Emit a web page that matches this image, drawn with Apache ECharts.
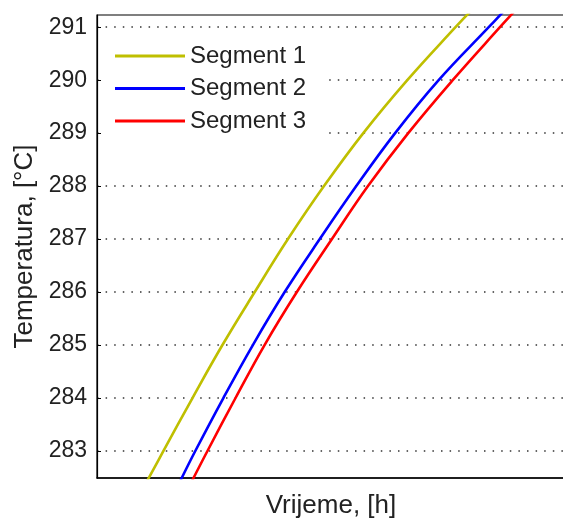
<!DOCTYPE html>
<html>
<head>
<meta charset="utf-8">
<script src="https://cdn.jsdelivr.net/npm/echarts@6/dist/echarts.min.js"></script>
<style>html,body{margin:0;padding:0;background:#fff}#c{width:563px;height:520px}</style>
</head>
<body>
<div id="c"></div>
<script>
// Temperatures (K) at which curve positions were read
var temps = [282.4, 283, 284, 285, 286, 287, 288, 289, 290, 291, 291.3];
// Time (h, arbitrary scale, axis unlabelled) for each segment at those temperatures
var seg1Time = [1.05, 1.42, 2.04, 2.68, 3.37, 4.08, 4.85, 5.69, 6.63, 7.66, 7.98];
var seg2Time = [1.76, 2.10, 2.70, 3.33, 4.01, 4.76, 5.54, 6.37, 7.30, 8.37, 8.69];
var seg3Time = [2.01, 2.36, 2.96, 3.58, 4.27, 5.02, 5.79, 6.65, 7.60, 8.61, 8.92];
var seriesNames = ['Segment 1', 'Segment 2', 'Segment 3'];
var seriesColors = ['#bfbf00', '#0000ff', '#ff0000'];
var yTicks = [283, 284, 285, 286, 287, 288, 289, 290, 291];
var yMin = 282.49, yMax = 291.23;
var xMin = 0, xMax = 10;

function pairs(t) { return t.map(function (x, i) { return [x, temps[i]]; }); }
var times = [seg1Time, seg2Time, seg3Time];

var font = 'Liberation Sans, Arial, sans-serif';
var chart = echarts.init(document.getElementById('c'));
chart.setOption({
  animation: false,
  backgroundColor: '#fff',
  grid: { left: 97, top: 15, bottom: 42, right: -2, outerBoundsMode: 'none', containLabel: false,
          show: true, borderColor: '#000', borderWidth: 1.2, backgroundColor: 'transparent' },
  legend: {
    orient: 'vertical', left: 103, top: 34,
    padding: [10, 18, 10, 12],
    backgroundColor: '#fff',
    itemWidth: 70, itemHeight: 3, itemGap: 8.5, itemTextGap: 7,
    icon: 'rect',
    textStyle: { fontFamily: font, fontSize: 24, color: '#222' },
    data: seriesNames
  },
  xAxis: {
    type: 'value', min: xMin, max: xMax,
    name: 'Vrijeme, [h]', nameLocation: 'middle', nameGap: 15,
    nameTextStyle: { fontFamily: font, fontSize: 26, color: '#222' },
    axisLine: { show: true, lineStyle: { color: '#000', width: 1.5 } },
    axisTick: { show: false }, axisLabel: { show: false }, splitLine: { show: false }
  },
  yAxis: {
    type: 'value', min: yMin, max: yMax,
    name: 'Temperatura, [°C]', nameLocation: 'middle', nameGap: 58,
    nameTextStyle: { fontFamily: font, fontSize: 26, color: '#222' },
    axisLine: { show: true, lineStyle: { color: '#000', width: 1.2 } },
    axisTick: { show: true, inside: true, length: 4, customValues: yTicks, lineStyle: { color: '#000' } },
    axisLabel: { customValues: yTicks, margin: 10, fontFamily: font, fontSize: 23, color: '#222' },
    splitLine: { show: true, lineStyle: { color: '#333', width: 1.5, type: [1.5, 7.1] } }
  },
  series: seriesNames.map(function (n, i) {
    return {
      name: n, type: 'line', data: pairs(times[i]), smooth: 0.4, showSymbol: false, symbol: 'none',
      clip: true, color: seriesColors[i], lineStyle: { width: 2.6, color: seriesColors[i] }
    };
  })
});
</script>
</body>
</html>
